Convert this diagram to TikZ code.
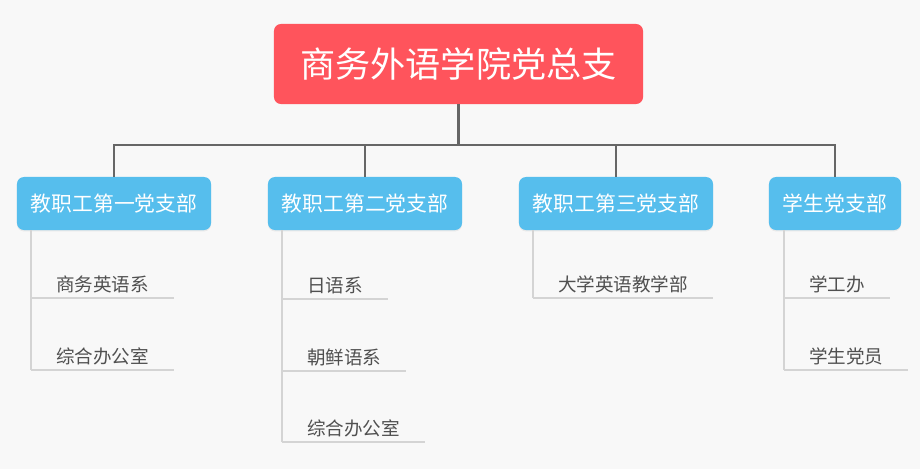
\documentclass[tikz,border=0pt]{standalone}
\usepackage{fontspec}
\newfontfamily\cjk{Noto Sans CJK SC}
\usetikzlibrary{positioning,shadows}
\definecolor{rojo}{RGB}{255, 84, 92}
\definecolor{celeste}{RGB}{86, 190, 237}
\definecolor{gristronco}{RGB}{102, 102, 102}
\definecolor{grisrama}{RGB}{212, 212, 212}
\definecolor{textohoja}{RGB}{80, 80, 80}
\definecolor{fondo}{RGB}{248, 248, 248}
\tikzset{
  raizbox/.style={fill=rojo,text=white,rounded corners=5pt,
                  font=\cjk\fontsize{25}{30}\selectfont,
                  minimum width=9.225cm,minimum height=2cm,inner sep=0pt},
  ramabox/.style={fill=celeste,text=white,rounded corners=5pt,
                  font=\cjk\fontsize{14.8}{18}\selectfont,
                  minimum height=1.325cm,inner sep=0pt,
                  drop shadow={shadow xshift=0pt,shadow yshift=-1pt,opacity=0.12}},
  hoja/.style={anchor=south west,text=textohoja,font=\cjk\fontsize{13.2}{16}\selectfont,
               inner xsep=0.62cm,inner ysep=0.15cm,text depth=0pt},
  tronco/.style={draw=gristronco,line width=2.1pt},
  rama/.style={draw=grisrama,line width=1.4pt},
}
\begin{document}
\begin{tikzpicture}[x=0.025cm,y=-0.025cm]
  \fill[fondo] (0,0) rectangle (920,469);
  \useasboundingbox (0,0) rectangle (920,469);
  % cabecera
  \node[raizbox] (raiz) at (458.5,64) {商务外语学院党总支};
  % ramas
  \node[ramabox,minimum width=4.85cm] (b1) at (114,203.5) {教职工第一党支部};
  \node[ramabox,minimum width=4.85cm] (b2) at (365,203.5) {教职工第二党支部};
  \node[ramabox,minimum width=4.85cm] (b3) at (616,203.5) {教职工第三党支部};
  \node[ramabox,minimum width=3.3cm] (b4) at (835,203.5) {学生党支部};
  \coordinate (bus) at (458.5,145);
  \draw[tronco] (raiz.south) -- (bus);
  \draw[tronco] (bus) -| (b1.north);
  \draw[tronco] (bus) -| (b2.north);
  \draw[tronco] (bus) -| (b3.north);
  \draw[tronco] (bus) -| (b4.north);
  % hojas
  \node[hoja] (h11) at (31,298) {商务英语系};
  \node[hoja] (h12) at (31,370) {综合办公室};
  \node[hoja] (h21) at (282,299) {日语系};
  \node[hoja] (h22) at (282,371) {朝鲜语系};
  \node[hoja] (h23) at (282,442) {综合办公室};
  \node[hoja] (h31) at (533,298) {大学英语教学部};
  \node[hoja] (h41) at (784,298) {学工办};
  \node[hoja] (h42) at (784,370) {学生党员};
  \draw[rama] (b1.south -| h11.west) -- (h12.south west);
  \draw[rama] (b2.south -| h21.west) -- (h23.south west);
  \draw[rama] (b3.south -| h31.west) -- (h31.south west);
  \draw[rama] (b4.south -| h41.west) -- (h42.south west);
  \draw[rama] (h11.south west) -- (h11.south east);
  \draw[rama] (h12.south west) -- (h12.south east);
  \draw[rama] (h21.south west) -- (h21.south east);
  \draw[rama] (h22.south west) -- (h22.south east);
  \draw[rama] (h23.south west) -- (h23.south east);
  \draw[rama] (h31.south west) -- (h31.south east);
  \draw[rama] (h41.south west) -- (h41.south east);
  \draw[rama] (h42.south west) -- (h42.south east);
\end{tikzpicture}
\end{document}
